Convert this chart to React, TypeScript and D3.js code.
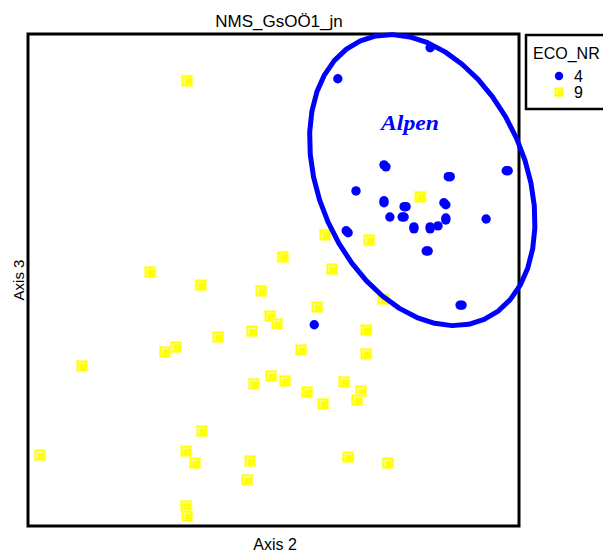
import React from "react";
import * as d3 from "d3";

const W = 603;
const H = 552;

const title = "NMS_GsOÖ1_jn";
const xLabel = "Axis 2";
const yLabel = "Axis 3";
const legendTitle = "ECO_NR";
const groupNames = ["4", "9"];
const ellipseLabel = "Alpen";

// ECO_NR 4 (blue circles): [Axis 2, Axis 3]
const eco4: [number, number][] = [
  [81.9, 97.2], [63.1, 90.9],
  [72.5, 73.4], [72.9, 73.0],
  [85.6, 71.0], [86.0, 71.0],
  [97.4, 72.2], [97.8, 72.2],
  [66.8, 68.1],
  [72.5, 66.1], [72.5, 65.7],
  [76.6, 64.9], [77.0, 64.9],
  [84.7, 65.7], [85.1, 65.3],
  [73.7, 62.8],
  [76.2, 62.8], [76.6, 62.8],
  [85.1, 62.6], [85.1, 62.2],
  [78.6, 60.8], [78.6, 60.4],
  [81.9, 60.8], [81.9, 60.4],
  [83.5, 61.0],
  [93.3, 62.4],
  [64.8, 60.0], [65.2, 59.6],
  [81.1, 55.9], [81.5, 55.9],
  [88.0, 44.9], [88.4, 44.9],
  [58.3, 40.9],
];

// ECO_NR 9 (yellow squares)
const eco9: [number, number][] = [
  [32.4, 90.5], [79.9, 66.9], [60.5, 59.2], [69.5, 58.1], [51.9, 54.7],
  [24.9, 51.6], [61.9, 52.2], [35.2, 49.0], [47.5, 47.8], [72.3, 46.1],
  [58.9, 44.5], [49.3, 42.7], [50.7, 41.1], [45.6, 39.6], [68.9, 39.8],
  [38.7, 38.4], [30.1, 36.4], [27.9, 35.4], [55.6, 35.8], [68.9, 35.0],
  [11.0, 32.5], [49.5, 30.5], [52.3, 29.5], [46.0, 28.9], [64.4, 29.3],
  [56.8, 27.2], [67.8, 27.4], [67.0, 25.6], [60.1, 24.8], [35.4, 19.3],
  [2.4, 14.4], [32.2, 15.2], [34.0, 12.8], [45.2, 13.2], [65.2, 14.0],
  [73.3, 12.8], [44.6, 9.4], [32.2, 4.1], [32.4, 2.0],
];

// Alpen ellipse: center, semi-axes, rotation (degrees, data space)
const ellipseCenter: [number, number] = [80.3, 70.3];
const ellipseRadii: [number, number] = [31.0, 21.0];
const ellipseAngle = -66;
const ellipseLabelPos: [number, number] = [71.9, 80.5];

const frame = { left: 28, top: 34, right: 519, bottom: 526 };

export default function App() {
  const x = d3.scaleLinear().domain([0, 100]).range([frame.left, frame.right]);
  const y = d3.scaleLinear().domain([0, 100]).range([frame.bottom, frame.top]);

  const phi = (ellipseAngle * Math.PI) / 180;
  const ellPts: [number, number][] = d3.range(0, 40).map((i) => {
    const t = (i / 40) * 2 * Math.PI;
    const a = ellipseRadii[0];
    const b = ellipseRadii[1];
    const dx = a * Math.cos(t) * Math.cos(phi) - b * Math.sin(t) * Math.sin(phi);
    const dy = a * Math.cos(t) * Math.sin(phi) + b * Math.sin(t) * Math.cos(phi);
    return [ellipseCenter[0] + dx, ellipseCenter[1] + dy];
  });
  const ellPath = d3
    .line<[number, number]>()
    .x((d) => x(d[0]))
    .y((d) => y(d[1]))
    .curve(d3.curveLinearClosed)(ellPts) as string;

  const sq = 11;
  const square = (cx: number, cy: number, key: React.Key, s = sq) => (
    <g key={key}>
      <rect x={cx - s / 2} y={cy - s / 2} width={s} height={s} fill="#ffff00" stroke="#ffff70" strokeWidth={1} />
      <path
        d={`M${cx - s / 2 + 2.5},${cy + s / 2 - 2} V${cy - s / 2 + 2.5} H${cx + s / 2 - 2}`}
        fill="none"
        stroke="#ffffc8"
        strokeWidth={1}
      />
    </g>
  );

  const font = "'Liberation Sans', Arial, sans-serif";

  return (
    <svg
      width={W}
      height={H}
      style={{ position: "absolute", left: 0, top: 0, display: "block", background: "#fff" }}
    >
      <rect width={W} height={H} fill="#fff" />
      <text x={279} y={27} textAnchor="middle" fontFamily={font} fontSize={17} fill="#000">
        {title}
      </text>
      <rect
        x={frame.left}
        y={frame.top}
        width={frame.right - frame.left}
        height={frame.bottom - frame.top}
        fill="none"
        stroke="#000"
        strokeWidth={3}
      />
      <text x={275} y={550} textAnchor="middle" fontFamily={font} fontSize={16} fill="#000">
        {xLabel}
      </text>
      <text
        transform={`translate(24,280) rotate(-90)`}
        textAnchor="middle"
        fontFamily={font}
        fontSize={15}
        fill="#000"
      >
        {yLabel}
      </text>

      {eco9.map((d, i) => square(x(d[0]), y(d[1]), "s" + i))}

      <path d={ellPath} fill="none" stroke="#0000ff" strokeWidth={5} strokeLinejoin="round" />

      {eco4.map((d, i) => (
        <circle key={"c" + i} cx={x(d[0])} cy={y(d[1])} r={4.7} fill="#0000ff" />
      ))}

      <text
        x={x(ellipseLabelPos[0])}
        y={y(ellipseLabelPos[1])}
        fontFamily="'Liberation Serif', 'DejaVu Serif', serif"
        fontWeight="bold"
        fontStyle="italic"
        fontSize={20}
        textLength={58}
        lengthAdjust="spacingAndGlyphs"
        fill="#0000ff"
      >
        {ellipseLabel}
      </text>

      <rect x={526} y={35} width={90} height={74} fill="#fff" stroke="#000" strokeWidth={2.5} />
      <text x={533} y={59} fontFamily={font} fontSize={16} fill="#000">
        {legendTitle}
      </text>
      <circle cx={559} cy={76} r={4.2} fill="#0000ff" />
      <text x={574} y={82} fontFamily={font} fontSize={16} fill="#000">
        {groupNames[0]}
      </text>
      {square(559, 92, "leg", 9)}
      <text x={574} y={98} fontFamily={font} fontSize={16} fill="#000">
        {groupNames[1]}
      </text>
    </svg>
  );
}
